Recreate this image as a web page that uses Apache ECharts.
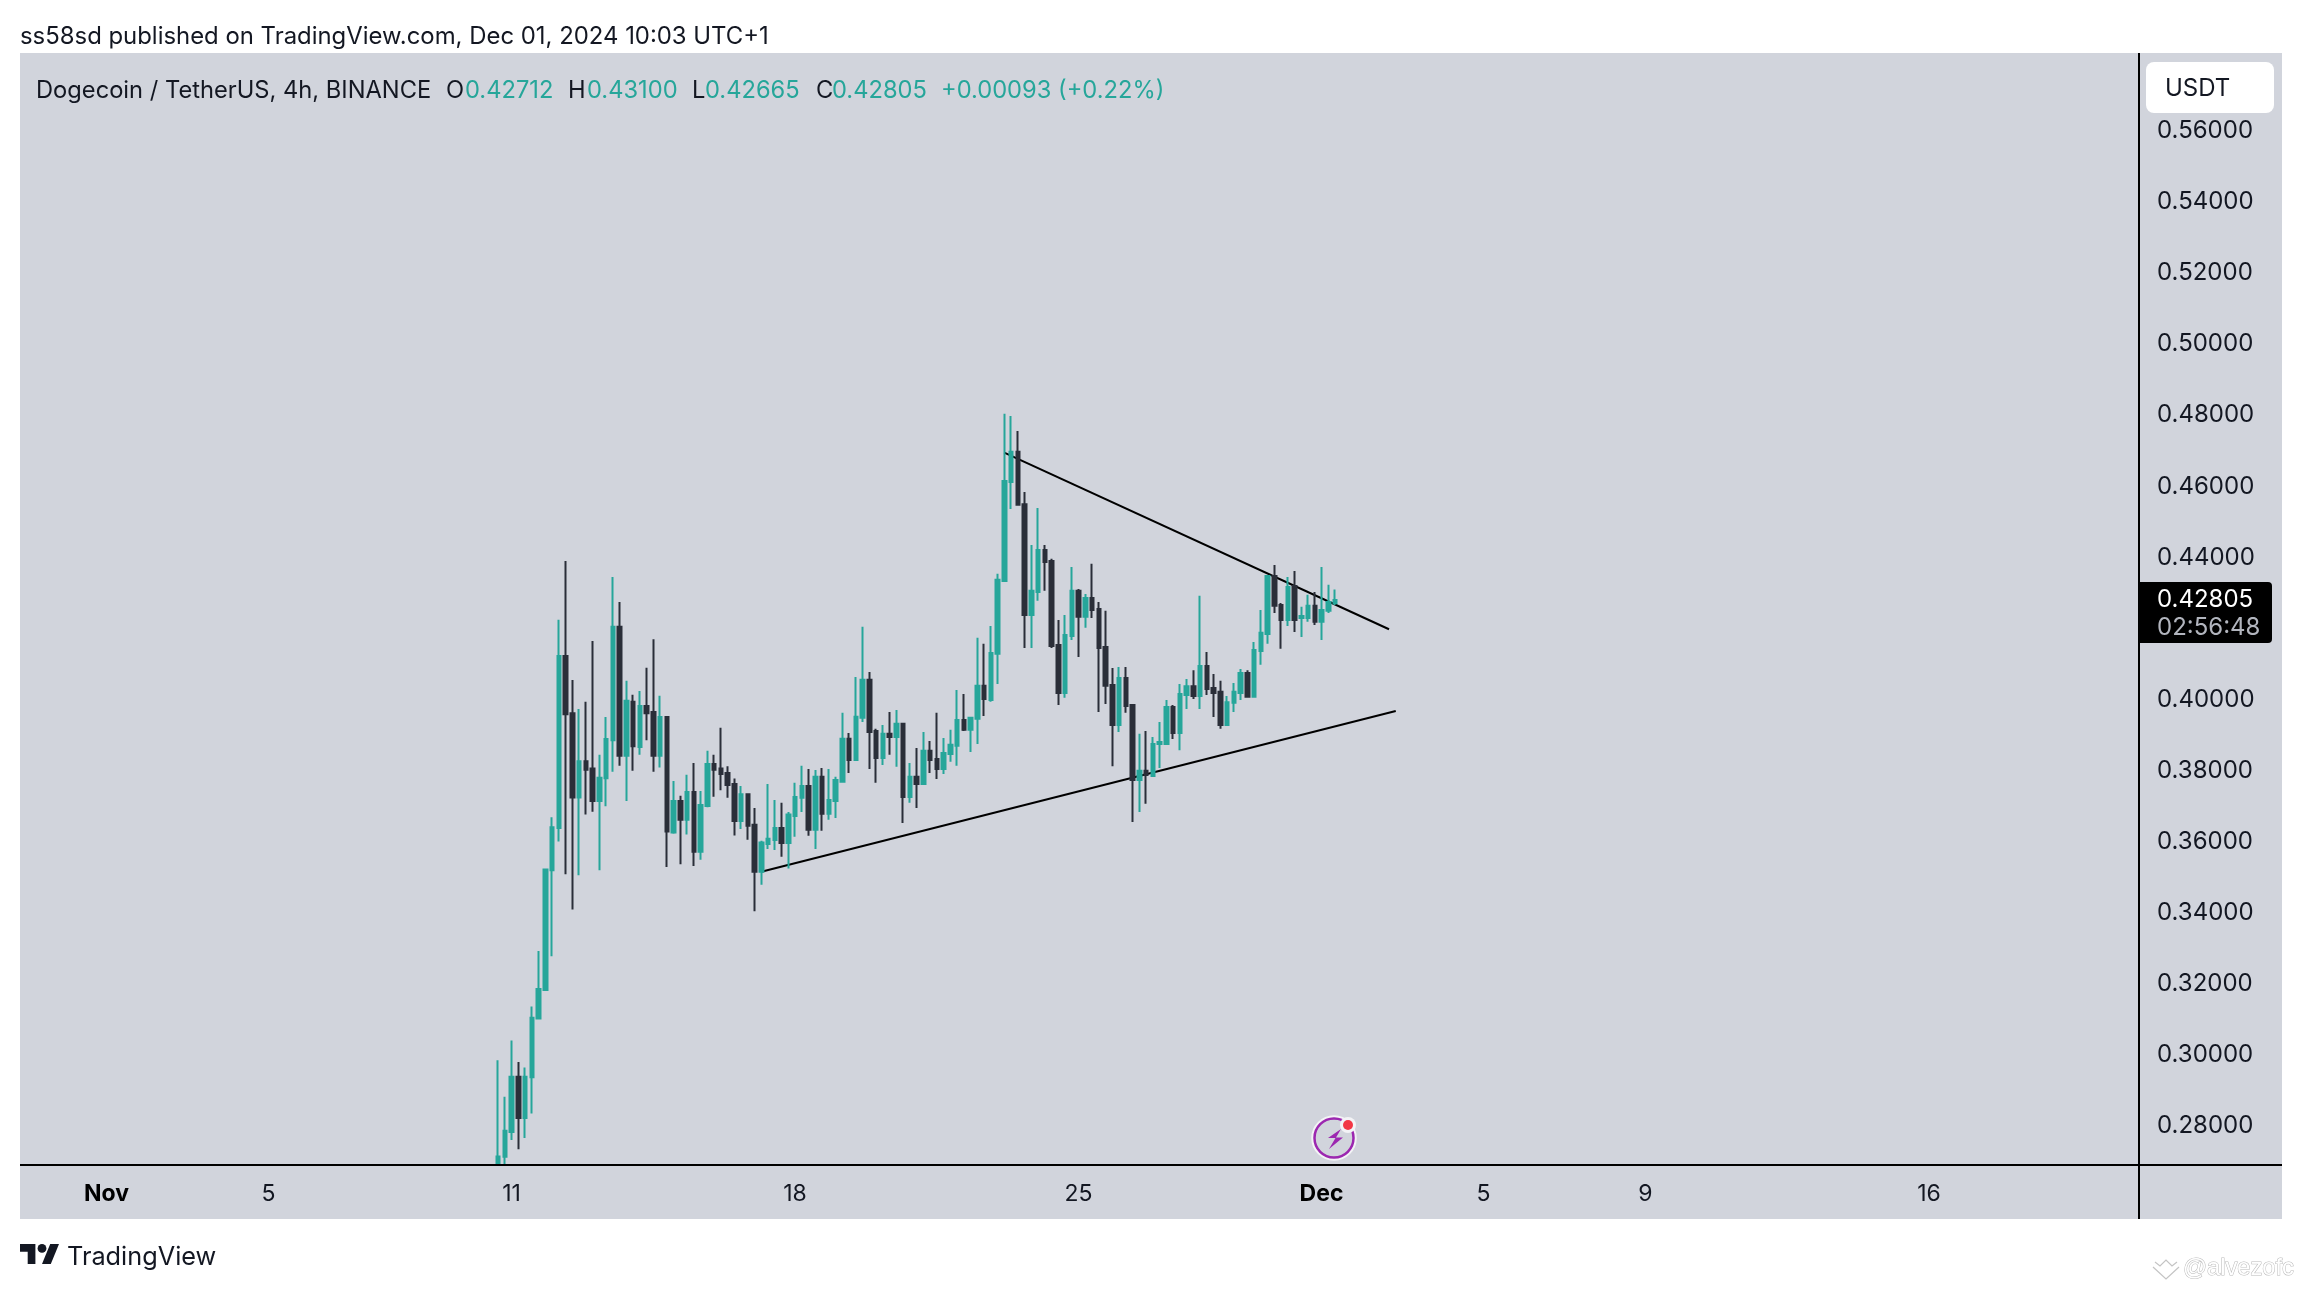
<!DOCTYPE html>
<html>
<head>
<meta charset="utf-8">
<style>html,body{margin:0;padding:0;background:#fff}#c{width:2302px;height:1290px}</style>
<script src="https://cdn.jsdelivr.net/npm/echarts@6/dist/echarts.min.js"></script>
</head>
<body>
<div id="c"></div>
<script>
const firstBar = 71;
const barCount = 315;
const opens = [.2695,.2714,.2784,.2939,.2823,.2938,.3103,.3183,.3520,.3639,
.4123,.3962,.3725,.3827,.3806,.3715,.3779,.3886,.4205,.3842,
.3994,.3867,.3982,.3965,.3842,.3951,.3626,.3715,.3662,.3740,
.3572,.3701,.3819,.3806,.3794,.3763,.3659,.3734,.3648,.3516,
.3594,.3605,.3639,.3597,.3673,.3724,.3757,.3634,.3783,.3679,
.3715,.3769,.3890,.3830,.3949,.4056,.3912,.3836,.3904,.3895,
.3932,.3726,.3783,.3763,.3856,.3833,.3805,.3847,.3870,.3943,
.3915,.3946,.4039,.3999,.4129,.4334,.4612,.4697,.4550,.4238,
.4303,.4421,.4390,.4154,.4019,.4179,.4306,.4233,.4286,.4255,
.4148,.4041,.3929,.4061,.3985,.3774,.3800,.3785,.3875,.3875,
.3979,.3906,.4013,.4038,.4010,.4095,.4033,.4022,.3929,.3991,
.4019,.4075,.4008,.4137,.4185,.4348,.4266,.4224,.4320,.4230,
.4230,.4264,.4219,.4250,.42712];
const closes = [.2715,.2787,.2939,.2823,.2939,.3105,.3186,.3522,.3641,.4123,
.3959,.3725,.3827,.3803,.3715,.3780,.3889,.4205,.3842,.3997,
.3869,.3982,.3962,.3842,.3951,.3629,.3715,.3662,.3740,.3572,
.3704,.3819,.3803,.3791,.3760,.3659,.3734,.3645,.3516,.3598,
.3609,.3639,.3597,.3677,.3726,.3757,.3634,.3783,.3679,.3718,
.3774,.3890,.3830,.3952,.4056,.3909,.3836,.3904,.3895,.3932,
.3726,.3783,.3763,.3856,.3830,.3805,.3850,.3873,.3943,.3915,
.3949,.4039,.4002,.4131,.4337,.4615,.4697,.4548,.4238,.4306,
.4421,.4387,.4151,.4019,.4182,.4306,.4233,.4286,.4252,.4145,
.4039,.3929,.4061,.3982,.3774,.3800,.3788,.3875,.3881,.3979,
.3906,.4016,.4038,.4010,.4095,.4030,.4019,.3929,.3993,.4022,
.4075,.4008,.4140,.4188,.4348,.4264,.4224,.4317,.4224,.4235,
.4264,.4219,.4252,.4275,.42805];
const lows = [.2692,.2692,.2761,.2735,.2767,.2836,.3103,.3181,.3278,.3601,
.3509,.3410,.3506,.3677,.3685,.3520,.3700,.3797,.3814,.3715,
.3800,.3845,.3886,.3797,.3809,.3529,.3623,.3537,.3621,.3532,
.3550,.3697,.3727,.3745,.3724,.3618,.3636,.3606,.3405,.3479,
.3580,.3577,.3558,.3525,.3614,.3684,.3617,.3580,.3631,.3662,
.3667,.3769,.3794,.3830,.3937,.3805,.3766,.3816,.3845,.3811,
.3653,.3710,.3695,.3763,.3794,.3777,.3791,.3825,.3814,.3912,
.3853,.3875,.3954,.3994,.4044,.4334,.4536,.4548,.4145,.4145,
.4278,.4306,.4145,.3985,.4005,.4168,.4120,.4202,.4230,.3965,
.3988,.3813,.3909,.3963,.3656,.3684,.3707,.3785,.3808,.3875,
.3889,.3858,.3974,.4002,.3974,.4013,.3951,.3918,.3929,.3965,
.3999,.4008,.4008,.4098,.4157,.4244,.4143,.4207,.4190,.4176,
.4219,.4210,.4168,.4244,.42665];
const highs = [.2986,.2883,.3041,.2981,.2965,.3137,.3293,.3522,.3669,.4225,
.4390,.4055,.3974,.3994,.4165,.3845,.3951,.4345,.4275,.4053,
.4014,.4024,.4090,.4170,.4011,.3951,.3771,.3730,.3789,.3822,
.3743,.3856,.3845,.3921,.3813,.3778,.3757,.3737,.3695,.3603,
.3763,.3718,.3710,.3684,.3766,.3814,.3805,.3802,.3808,.3805,
.3783,.3963,.3906,.4064,.4205,.4078,.3918,.3929,.3965,.3971,
.3935,.3822,.3864,.3909,.3884,.3963,.3892,.3915,.4027,.4016,
.3951,.4174,.4157,.4207,.4354,.4804,.4798,.4756,.4584,.4435,
.4539,.4435,.4396,.4224,.4238,.4373,.4311,.4297,.4382,.4275,
.4250,.4089,.4092,.4092,.3988,.3904,.3912,.3895,.3937,.3999,
.3985,.4044,.4058,.4083,.4292,.4134,.4072,.4053,.4010,.4047,
.4086,.4083,.4162,.4252,.4348,.4379,.4272,.4345,.4362,.4261,
.4295,.4303,.4373,.4323,.43100];
const upperTrend = [[146,.4695],[203,.4198]];
const lowerTrend = [[110,.3516],[204,.3968]];
const yTicks = [.28,.30,.32,.34,.36,.38,.40,.42,.44,.46,.48,.50,.52,.54,.56];
const xTickBars = [13,37,73,115,157,193,217,241,283];
const xTickLabels = ['Nov','5','11','18','25','Dec','5','9','16'];
const xTickBold = ['Nov','Dec'];

const FONT = 'Inter, "Noto Sans", sans-serif';
const TEAL = '#26a69a', DARK = '#2a2e39', INK = '#131722', BG = '#d1d4dc';

const categories = Array.from({length: barCount}, (_, i) => String(i));
const candleRows = opens.map((o, k) => [firstBar + k, o, closes[k], lows[k], highs[k]]);

function txt(x, y, text, fill, size, extra) {
  return {type: 'text', z: 100, silent: true, x, y,
    style: Object.assign({text, fill, font: `${size}px ${FONT}`, verticalAlign: 'middle'}, extra || {})};
}
const R = 23.7;
const graphics = [
  {type: 'rect', z: -10, silent: true, shape: {x: 20, y: 53, width: 2262, height: 1166}, style: {fill: BG}},
  {type: 'line', z: 50, silent: true, shape: {x1: 20, y1: 1165, x2: 2282, y2: 1165}, style: {stroke: '#000', lineWidth: 2}},
  {type: 'line', z: 50, silent: true, shape: {x1: 2139, y1: 53, x2: 2139, y2: 1219}, style: {stroke: '#000', lineWidth: 2}},
  txt(36, 91, 'Dogecoin / TetherUS, 4h, BINANCE', INK, R),
  txt(446, 91, 'O', INK, R), txt(465, 91, '0.42712', TEAL, R),
  txt(568, 91, 'H', INK, R), txt(587, 91, '0.43100', TEAL, R),
  txt(692, 91, 'L', INK, R), txt(705, 91, '0.42665', TEAL, R),
  txt(816, 91, 'C', INK, R), txt(832, 91, '0.42805', TEAL, R),
  txt(941, 91, '+0.00093 (+0.22%)', TEAL, R),
  {type: 'rect', z: 100, silent: true, shape: {x: 2146, y: 62, width: 128, height: 51, r: 8}, style: {fill: '#fff'}},
  txt(2165, 89, 'USDT', INK, 24),
  {type: 'rect', z: 100, silent: true, shape: {x: 2140, y: 582, width: 132, height: 61, r: [0, 4, 4, 0]}, style: {fill: '#000'}},
  txt(2157, 600, '0.42805', '#fff', 24),
  txt(2157, 628, '02:56:48', '#b2b5be', 24),
  {type: 'polygon', z: 100, silent: true, shape: {points: [[20, 1244], [35.4, 1244], [35.4, 1264], [27.7, 1264], [27.7, 1251.8], [20, 1251.8]]}, style: {fill: INK}},
  {type: 'polygon', z: 100, silent: true, shape: {points: [[50.8, 1264], [42, 1264], [50.2, 1244], [59, 1244]]}, style: {fill: INK}},
  {type: 'circle', z: 100, silent: true, shape: {cx: 42, cy: 1248.4, r: 4.4}, style: {fill: INK}},
  txt(67, 1257, 'TradingView', INK, 25.3),
  {type: 'circle', z: 90, silent: true, shape: {cx: 1334, cy: 1138, r: 21.5}, style: {fill: 'none', stroke: '#f3f3f6', lineWidth: 2.5}},
  {type: 'circle', z: 91, silent: true, shape: {cx: 1334, cy: 1138, r: 19.5}, style: {fill: 'none', stroke: '#9c27b0', lineWidth: 2.5}},
  {type: 'polygon', z: 92, silent: true, shape: {points: [[1341, 1129], [1328, 1138], [1335.5, 1138], [1329, 1149], [1343, 1137.5], [1336, 1137.5]]}, style: {fill: '#9c27b0'}},
  {type: 'circle', z: 93, silent: true, shape: {cx: 1348, cy: 1125, r: 8}, style: {fill: '#f3f3f6'}},
  {type: 'circle', z: 94, silent: true, shape: {cx: 1348, cy: 1125, r: 5}, style: {fill: '#f23645'}},
  {type: 'text', z: 100, silent: true, x: 2183, y: 1268, style: {text: '@alvezofc', fill: '#fff', stroke: '#b9b9b9', lineWidth: 1, font: '23.7px "Liberation Sans", sans-serif', verticalAlign: 'middle'}},
  {type: 'polyline', z: 100, silent: true, shape: {points: [[2153, 1267], [2166, 1279], [2179, 1267]]}, style: {stroke: '#c4c4c4', lineWidth: 1.2, fill: 'none'}},
  {type: 'polyline', z: 100, silent: true, shape: {points: [[2155, 1262], [2160, 1266], [2166, 1260], [2172, 1266], [2177, 1262]]}, style: {stroke: '#c4c4c4', lineWidth: 1.2, fill: 'none'}}
];

const chart = echarts.init(document.getElementById('c'), null, {renderer: 'canvas'});
chart.setOption({
  animation: false,
  backgroundColor: '#fff',
  title: {text: 'ss58sd published on TradingView.com, Dec 01, 2024 10:03 UTC+1', left: 20, top: 24,
    padding: 0, textStyle: {color: INK, fontFamily: 'Inter', fontSize: 23.9, fontWeight: 'normal', lineHeight: 26}},
  grid: {left: 15.375, top: 53, width: 2126.25, height: 1112, containLabel: false},
  xAxis: {
    type: 'category', data: categories, boundaryGap: true,
    axisLine: {show: false}, axisTick: {show: false}, splitLine: {show: false},
    axisLabel: {
      show: true, margin: 18, hideOverlap: false,
      interval: (idx) => xTickBars.includes(idx),
      formatter: (v, idx) => {
        const l = xTickLabels[xTickBars.indexOf(idx)];
        return xTickBold.includes(l) ? `{b|${l}}` : l;
      },
      color: INK, fontFamily: FONT, fontSize: 23,
      rich: {b: {fontWeight: 'bold', fontFamily: FONT, fontSize: 23, color: '#000'}}
    }
  },
  yAxis: {
    type: 'value', position: 'right', min: 0.2691, max: 0.5819,
    axisLine: {show: false}, axisTick: {show: false}, splitLine: {show: false},
    axisLabel: {
      show: true, inside: false, margin: 15.4, customValues: yTicks,
      formatter: (v) => v.toFixed(5), color: INK, fontFamily: FONT, fontSize: 24, align: 'left', padding: [1, 0, 0, 0]
    }
  },
  series: [
    {type: 'line', data: upperTrend, showSymbol: false, z: 1, silent: true, lineStyle: {color: '#000', width: 2}},
    {type: 'line', data: lowerTrend, showSymbol: false, z: 1, silent: true, lineStyle: {color: '#000', width: 2}},
    {type: 'candlestick', z: 2, clip: true, barWidth: 4, silent: true,
      dimensions: ['bar', 'open', 'close', 'low', 'high'],
      encode: {x: 0, y: [1, 2, 3, 4]},
      data: candleRows,
      itemStyle: {color: TEAL, color0: DARK, borderColor: TEAL, borderColor0: DARK, borderWidth: 2}}
  ],
  graphic: {elements: graphics}
});
</script>
</body>
</html>
